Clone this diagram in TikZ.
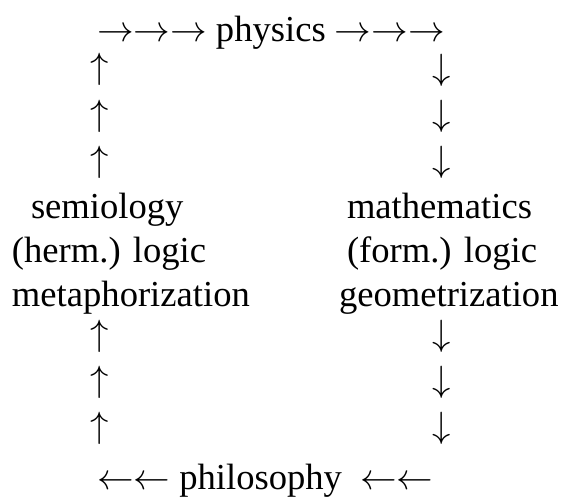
\RequirePackage{fix-cm}
\documentclass[tikz,border=0pt]{standalone}
\usepackage{fontspec}
\setmainfont{Liberation Serif}
\newcommand{\rA}{$\mathord{\rightarrow}$}
\newcommand{\lA}{$\mathord{\leftarrow}$}
\begin{document}
\begin{tikzpicture}[x=1pt,y=1pt,
  lbl/.style={inner sep=0pt,outer sep=0pt,anchor=base west,font=\fontsize{36.6}{44}\selectfont},
  varrow/.style={inner sep=0pt,outer sep=0pt,anchor=center,font=\fontsize{36.6}{44}\selectfont}]
\useasboundingbox (0,0) rectangle (565,-496);
% top and bottom rows
\node[lbl] (top) at (97,-41) {\rA\rA\rA\ physics \rA\rA\rA};
\node[lbl] (bottom) at (97,-489) {\lA\lA\ philosophy\ \ \lA\lA};
% up arrows, upper left
\node[varrow] (u1) at (100,-69) {$\uparrow$};
\node[varrow] (u2) at (100,-116) {$\uparrow$};
\node[varrow] (u3) at (100,-162) {$\uparrow$};
% down arrows, upper right
\node[varrow] (d1) at (442,-70) {$\downarrow$};
\node[varrow] (d2) at (442,-116) {$\downarrow$};
\node[varrow] (d3) at (442,-162) {$\downarrow$};
% left block
\node[lbl] (semi) at (31,-218) {semiology};
\node[lbl] (hlog) at (12,-262) {(herm.) logic};
\node[lbl] (meta) at (12,-306) {metaphorization};
% right block
\node[lbl] (math) at (347,-218) {mathematics};
\node[lbl] (flog) at (347,-262) {(form.) logic};
\node[lbl] (geom) at (339,-306) {geometrization};
% up arrows, lower left
\node[varrow] (u4) at (100,-336) {$\uparrow$};
\node[varrow] (u5) at (100,-382) {$\uparrow$};
\node[varrow] (u6) at (100,-428) {$\uparrow$};
% down arrows, lower right
\node[varrow] (d4) at (442,-336) {$\downarrow$};
\node[varrow] (d5) at (442,-382) {$\downarrow$};
\node[varrow] (d6) at (442,-428) {$\downarrow$};
\end{tikzpicture}
\end{document}
